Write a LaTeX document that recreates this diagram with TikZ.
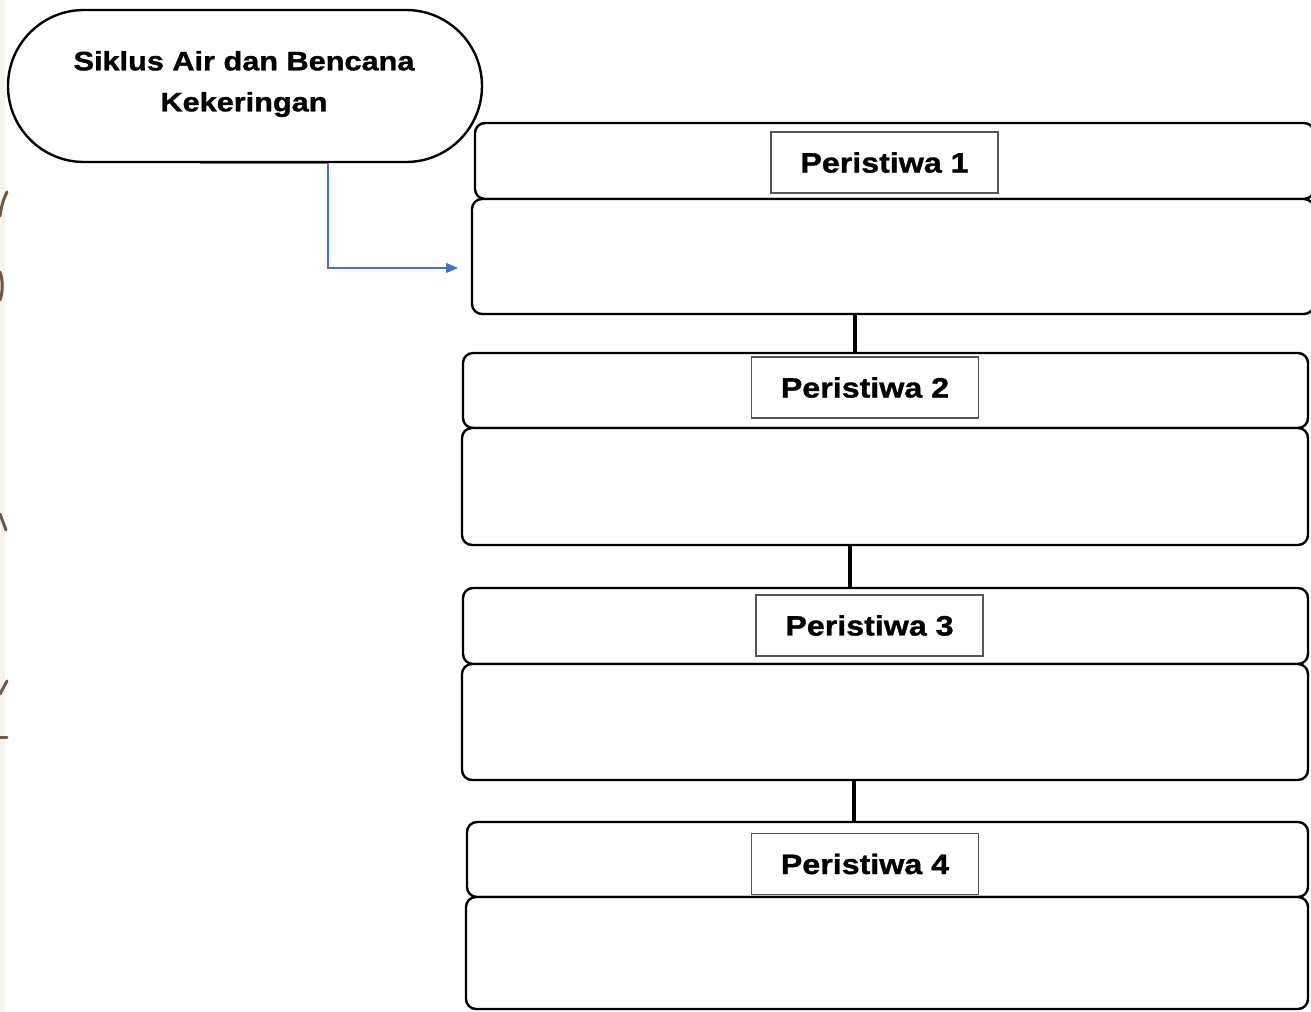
\documentclass[tikz,border=0pt]{standalone}
\usepackage{fontspec}
\setmainfont{Liberation Sans}
\newfontfamily\flowfont[FakeStretch=1.15,BoldFeatures={FakeBold=1.2}]{Liberation Sans}
\usetikzlibrary{fit,arrows.meta}
\definecolor{tagline}{RGB}{85,85,85}
\definecolor{flowblue}{RGB}{68,114,196}
\definecolor{decobrown}{RGB}{110,88,72}
\definecolor{edgebeige}{RGB}{247,243,238}

\begin{document}
\begin{tikzpicture}[x=0.75pt,y=0.75pt,yscale=-1,xscale=1,
		grp/.style={draw=black,line width=1.8pt,rounded corners=7.5pt,inner sep=0pt,fill=white},
		tag/.style={draw=tagline,line width=1.1pt,inner sep=0pt,fill=white,minimum width=170.25pt,minimum height=45.75pt,font=\flowfont\bfseries\fontsize{21}{25}\selectfont},
		link/.style={line width=3pt},
		flow/.style={draw=flowblue,line width=1pt,-{Triangle[length=9pt,width=7.5pt]}},
		deco/.style={draw=decobrown,line width=2.25pt,line cap=round}]
			\useasboundingbox (0,0) rectangle (1311,1012);
			\fill[white] (0,0) rectangle (1311,1012);
			\fill[edgebeige] (0,0) rectangle (5,1012);
			\draw[deco] (7,192) .. controls (3,200) and (1,208) .. (0,216);
			\draw[deco] (0,272) .. controls (3,280) and (3,292) .. (0,300);
			\draw[deco] (0,514) -- (6,530);
			\draw[deco] (0,694) -- (7,681);
			\draw[deco] (0,737) -- (7,737);
			\node[grp,rounded corners=57pt,fit={(8,10) (482,162)}] (topic) {};
			\node[align=center,font=\flowfont\bfseries\fontsize{20}{30.75}\selectfont] (topictxt) at (244,84) {Siklus Air dan Bencana\\Kekeringan};
			\node[grp,fit={(475,123) (1314,199)}] (hd1) {};
			\node[grp,fit={(472,199) (1314,314)}] (bd1) {};
			\node[tag] (ev1) at (884.5,162.5) {Peristiwa 1};
			\node[grp,fit={(463,353) (1308,428)}] (hd2) {};
			\node[grp,fit={(462,428) (1308,545)}] (bd2) {};
			\node[tag] (ev2) at (865,387.5) {Peristiwa 2};
			\node[grp,fit={(463,588) (1308,664)}] (hd3) {};
			\node[grp,fit={(462,664) (1308,780)}] (bd3) {};
			\node[tag] (ev3) at (869.5,625.5) {Peristiwa 3};
			\node[grp,fit={(467,822) (1308,897)}] (hd4) {};
			\node[grp,fit={(466,897) (1308,1009)}] (bd4) {};
			\node[tag] (ev4) at (865,864) {Peristiwa 4};
			\coordinate (k1) at (855,0);
			\coordinate (k2) at (850,0);
			\coordinate (k3) at (854,0);
			\coordinate (tip) at (458,268);
			\draw[link] (bd1.south -| k1) -- (hd2.north -| k1);
			\draw[link] (bd2.south -| k2) -- (hd3.north -| k2);
			\draw[link] (bd3.south -| k3) -- (hd4.north -| k3);
			\draw[flow] ([xshift=-33.75pt]topic.south) -- ([xshift=62.25pt]topic.south) |- (tip);
	\end{tikzpicture}
\end{document}
